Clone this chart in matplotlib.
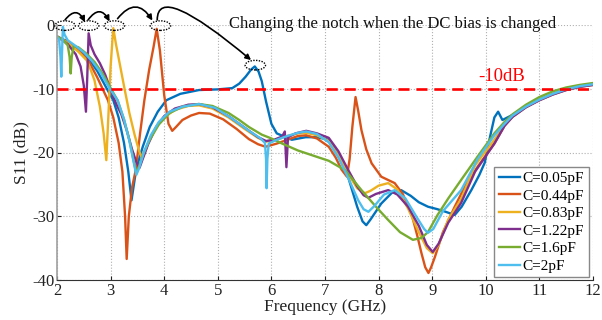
import matplotlib
matplotlib.use("Agg")
import matplotlib.pyplot as plt
from matplotlib.patches import Ellipse

plt.rcParams['font.family'] = ['Liberation Serif', 'DejaVu Serif']

labels = ["C=0.05pF", "C=0.44pF", "C=0.83pF", "C=1.22pF", "C=1.6pF", "C=2pF"]
colors = ["#0072BD", "#D95319", "#EDB120", "#7E2F8E", "#77AC30", "#4DBEEE"]

f_c005 = [2.0, 2.2, 2.4, 2.6, 2.75, 2.93, 3.05, 3.15, 3.25, 3.33, 3.39, 3.48, 3.6, 3.73, 3.88, 4.04,
          4.3, 4.65, 5.0, 5.27, 5.4, 5.52, 5.62, 5.69, 5.76, 5.82, 5.9, 6.0, 6.1, 6.38, 6.64, 6.85,
          7.07, 7.25, 7.43, 7.6, 7.7, 7.77, 7.85, 8.05, 8.25, 8.42, 8.6, 8.75, 8.92, 9.1, 9.25, 9.42,
          9.55, 9.73, 9.88, 9.98, 10.08, 10.16, 10.23, 10.31, 10.5, 10.75, 11.0, 11.25, 11.5, 11.75, 12.0]
s_c005 = [-1.8, -2.6, -3.8, -5.4, -7.2, -10.0, -11.8, -14.5, -18.5, -23.0, -27.5, -22.5, -19.1, -16.0, -13.6, -11.8,
          -10.8, -10.2, -10.1, -9.9, -9.2, -8.1, -7.0, -6.5, -7.3, -8.8, -12.0, -15.5, -17.0, -18.0, -17.6, -17.6,
          -18.0, -20.5, -23.8, -28.5, -30.8, -31.4, -30.5, -28.0, -26.3, -25.9, -26.8, -27.8, -28.5, -28.9, -29.3, -29.8,
          -28.5, -25.9, -23.5, -21.6, -17.5, -14.5, -13.6, -14.9, -14.1, -12.8, -11.7, -10.8, -10.1, -9.6, -9.3]

f_c044 = [2.0, 2.2, 2.4, 2.6, 2.75, 2.85, 2.95, 3.05, 3.15, 3.22, 3.27, 3.3, 3.34, 3.4, 3.47, 3.55, 3.63,
          3.72, 3.8, 3.86, 3.92, 4.0, 4.08, 4.15, 4.22, 4.34, 4.5, 4.65, 4.85, 5.1, 5.35, 5.58, 5.75, 5.89,
          6.1, 6.3, 6.5, 6.65, 6.85, 7.07, 7.2, 7.31, 7.41, 7.46, 7.51, 7.57, 7.62, 7.68, 7.77, 7.87, 8.05,
          8.3, 8.45, 8.61, 8.72, 8.8, 8.87, 8.93, 8.98, 9.05, 9.2, 9.42, 9.6, 9.85, 10.16, 10.35, 10.5,
          10.75, 11.0, 11.25, 11.5, 11.75, 12.0]
s_c044 = [-1.8, -2.7, -4.0, -5.8, -8.2, -10.0, -11.8, -14.5, -18.5, -23.0, -30.0, -36.7, -30.0, -25.5, -22.7, -17.0, -11.8,
          -7.0, -3.5, -0.6, -4.0, -11.0, -15.5, -16.6, -16.0, -14.9, -14.2, -13.8, -13.9, -14.8, -16.3, -17.9, -18.7, -19.1,
          -18.6, -18.0, -17.4, -17.3, -17.8, -19.1, -20.8, -22.7, -23.8, -21.0, -16.0, -11.3, -13.5, -16.5, -19.5, -21.7, -23.8,
          -24.8, -26.5, -29.5, -33.0, -35.8, -38.0, -38.9, -38.0, -36.4, -32.5, -28.5, -25.5, -22.2, -18.6, -15.8, -14.4,
          -12.9, -11.8, -10.9, -10.2, -9.7, -9.4]

f_c083 = [2.0, 2.2, 2.4, 2.55, 2.61, 2.7, 2.8, 2.87, 2.92, 2.96, 3.0, 3.05, 3.1, 3.18, 3.26, 3.35, 3.45,
          3.53, 3.59, 3.64, 3.72, 3.85, 4.0, 4.2, 4.45, 4.65, 4.9, 5.2, 5.5, 5.75, 5.9, 6.1, 6.3, 6.5,
          6.65, 6.85, 7.07, 7.25, 7.45, 7.6, 7.74, 7.85, 8.0, 8.18, 8.35, 8.55, 8.75, 8.9, 9.01, 9.12,
          9.3, 9.54, 9.8, 10.16, 10.35, 10.5, 10.75, 11.0, 11.25, 11.5, 11.75, 12.0]
s_c083 = [-1.8, -2.8, -4.2, -5.5, -6.6, -8.7, -12.8, -17.0, -21.2, -14.0, -6.5, -0.5, -3.0, -6.5, -10.0, -13.8, -17.3,
          -19.7, -21.0, -20.0, -18.0, -16.0, -14.5, -13.3, -12.7, -12.6, -13.1, -14.5, -16.3, -17.7, -18.3, -18.0, -17.4, -17.0,
          -16.9, -17.3, -18.2, -20.5, -23.6, -25.6, -26.4, -26.0, -25.2, -24.8, -25.8, -28.8, -32.5, -35.0, -35.8, -34.5,
          -30.5, -27.3, -22.0, -18.0, -15.7, -14.3, -12.8, -11.7, -10.8, -10.1, -9.6, -9.3]

f_c122 = [2.0, 2.2, 2.35, 2.44, 2.5, 2.54, 2.565, 2.59, 2.63, 2.7, 2.8, 2.9, 2.98, 3.1, 3.2, 3.3, 3.4,
          3.48, 3.54, 3.6, 3.7, 3.85, 4.0, 4.2, 4.45, 4.65, 4.9, 5.2, 5.5, 5.75, 5.9, 6.05, 6.2, 6.25,
          6.28, 6.31, 6.45, 6.65, 6.85, 7.07, 7.25, 7.43, 7.6, 7.72, 7.81, 7.95, 8.18, 8.35, 8.55, 8.75,
          8.9, 9.01, 9.12, 9.3, 9.54, 9.8, 10.16, 10.35, 10.5, 10.75, 11.0, 11.25, 11.5, 11.75, 12.0]
s_c122 = [-1.8, -3.0, -4.6, -6.5, -9.5, -13.6, -8.0, -1.3, -3.2, -4.6, -6.0, -7.8, -9.7, -12.3, -14.0, -16.5, -19.5,
          -21.5, -22.4, -21.0, -18.7, -16.0, -14.3, -13.1, -12.5, -12.4, -12.9, -14.3, -16.1, -17.6, -18.2, -18.0, -17.5, -16.7,
          -22.3, -17.6, -17.0, -16.6, -17.0, -17.7, -19.8, -22.7, -25.3, -26.7, -27.1, -26.5, -25.9, -26.6, -28.5, -31.5,
          -34.5, -35.6, -34.3, -31.0, -27.9, -23.0, -18.6, -15.8, -14.4, -12.9, -11.8, -10.9, -10.2, -9.7, -9.4]

f_c160 = [2.0, 2.12, 2.2, 2.235, 2.255, 2.275, 2.31, 2.4, 2.55, 2.7, 2.85, 3.0, 3.13, 3.25, 3.35, 3.43,
          3.48, 3.53, 3.62, 3.73, 3.9, 4.1, 4.35, 4.65, 4.9, 5.2, 5.4, 5.58, 5.82, 6.0, 6.2, 6.5, 6.82,
          7.07, 7.38, 7.68, 7.95, 8.18, 8.4, 8.64, 8.8, 8.92, 9.1, 9.3, 9.54, 9.85, 10.16, 10.35, 10.5,
          10.75, 11.0, 11.25, 11.5, 11.75, 12.0]
s_c160 = [-1.8, -2.4, -3.2, -5.0, -7.6, -5.0, -3.3, -3.5, -4.5, -5.8, -7.6, -9.9, -11.8, -14.8, -18.0, -21.3,
          -23.3, -22.2, -20.0, -18.0, -15.6, -13.8, -12.8, -12.4, -12.7, -13.8, -14.9, -16.0, -17.2, -17.8, -18.6, -19.7, -20.6,
          -21.3, -22.8, -25.9, -28.5, -30.6, -32.5, -33.7, -33.4, -32.5, -29.8, -27.2, -24.3, -20.6, -17.0, -15.2, -14.0,
          -12.5, -11.3, -10.4, -9.8, -9.4, -9.1]

f_c200 = [2.0, 2.04, 2.065, 2.08, 2.095, 2.11, 2.14, 2.2, 2.35, 2.5, 2.65, 2.8, 2.97, 3.13, 3.25, 3.35,
          3.43, 3.48, 3.53, 3.62, 3.75, 3.9, 4.1, 4.35, 4.65, 4.95, 5.25, 5.58, 5.8, 5.88, 5.9, 5.91,
          5.925, 5.95, 6.1, 6.3, 6.5, 6.65, 6.85, 7.07, 7.25, 7.45, 7.62, 7.72, 7.81, 7.92, 8.1, 8.3,
          8.5, 8.7, 8.85, 8.92, 9.02, 9.2, 9.54, 9.85, 10.16, 10.35, 10.5, 10.75, 11.0, 11.25, 11.5,
          11.75, 12.0]
s_c200 = [-1.8, -2.3, -5.0, -8.1, -4.0, -0.3, -1.5, -2.4, -3.3, -4.3, -5.6, -7.3, -9.8, -11.8, -14.8, -18.2,
          -21.5, -23.5, -22.5, -20.0, -17.3, -15.2, -13.6, -12.8, -12.4, -13.0, -14.6, -16.6, -17.8, -18.5, -21.0, -25.6,
          -21.0, -18.6, -18.0, -17.4, -16.9, -16.7, -17.1, -18.4, -20.8, -24.3, -27.5, -28.9, -29.3, -28.4, -26.6, -25.9,
          -27.2, -30.0, -32.0, -32.6, -32.0, -29.2, -25.9, -21.0, -17.3, -15.5, -14.2, -12.8, -11.7, -10.8, -10.1,
          -9.6, -9.3]

series_f = [f_c005, f_c044, f_c083, f_c122, f_c160, f_c200]
series_s = [s_c005, s_c044, s_c083, s_c122, s_c160, s_c200]

xticks = [2, 3, 4, 5, 6, 7, 8, 9, 10, 11, 12]
yticks = [0, -10, -20, -30, -40]

# notch markers (ellipse centres)
notch_f = [2.15, 2.59, 3.07, 3.93, 5.70]
notch_s = [-0.1, -0.1, -0.1, -0.1, -6.3]

fig = plt.figure(figsize=(6.02, 3.2), dpi=100)
ax = fig.add_axes([57/602, 40/320, 536/602, 255/320])

for f, s, c, lab in zip(series_f, series_s, colors, labels):
    ax.plot(f, s, color=c, lw=1.7, label=lab, solid_joinstyle='round')

ax.axhline(-10, color='#FF0000', lw=1.9, linestyle=(0, (4.2, 2.6)), zorder=5)
ax.text(9.85, -9.4, '-10dB', color='#FF0000', fontsize=13.5, ha='left', va='bottom')

ax.set_xlim(2, 12)
ax.set_ylim(-40, 0)
ax.set_xticks(xticks)
ax.set_yticks(yticks)
ax.set_xticklabels([str(t) for t in xticks])
ax.set_yticklabels([str(t) for t in yticks])
ax.tick_params(direction='in', length=3, labelsize=12, pad=2, colors='#222222')
ax.grid(True, linestyle=':', color='#b0b0b0', lw=0.8)
for side in ['top', 'right']:
    ax.spines[side].set_visible(False)
ax.spines['left'].set_color('#a0a0a0')
ax.spines['left'].set_linewidth(1.2)
ax.spines['bottom'].set_color('#333333')
ax.set_xlabel('Frequency (GHz)', fontsize=12.5, labelpad=0, color='#222222')
ax.set_ylabel('S11 (dB)', fontsize=12.5, labelpad=2, color='#222222')

for fx, sy in zip(notch_f, notch_s):
    e = Ellipse((fx, sy), 0.38, 1.5, fill=False, edgecolor='k', linestyle=(0, (1, 1)), lw=1.0,
                clip_on=False, zorder=6)
    ax.add_patch(e)

arrow_specs = [((2.15, 0.8), (2.52, 0.45), 'arc3,rad=-0.8'),
               ((2.58, 0.8), (2.98, 0.55), 'arc3,rad=-0.8'),
               ((3.13, 1.0), (3.78, 0.7), 'arc3,rad=-0.7'),
               ((3.87, 0.8), (5.62, -5.5), 'angle3,angleA=90,angleB=140')]
for start, end, cs in arrow_specs:
    ax.annotate('', xy=end, xytext=start, annotation_clip=False,
                arrowprops=dict(arrowstyle='-|>', connectionstyle=cs, color='k', lw=1.2,
                                shrinkA=0, shrinkB=0, mutation_scale=8))

ax.text(5.21, -0.4, 'Changing the notch when the DC bias is changed', fontsize=12,
        ha='left', va='baseline', color='#111111', clip_on=False)

leg = ax.legend(loc='lower right', bbox_to_anchor=(0.992, 0.01), fontsize=11, frameon=True,
                fancybox=False, edgecolor='#888888', framealpha=1, labelspacing=0.25,
                handlelength=1.4, handletextpad=0.15, borderpad=0.3, borderaxespad=0)
leg.get_frame().set_linewidth(1.0)

fig.savefig('out.png', dpi=100)
